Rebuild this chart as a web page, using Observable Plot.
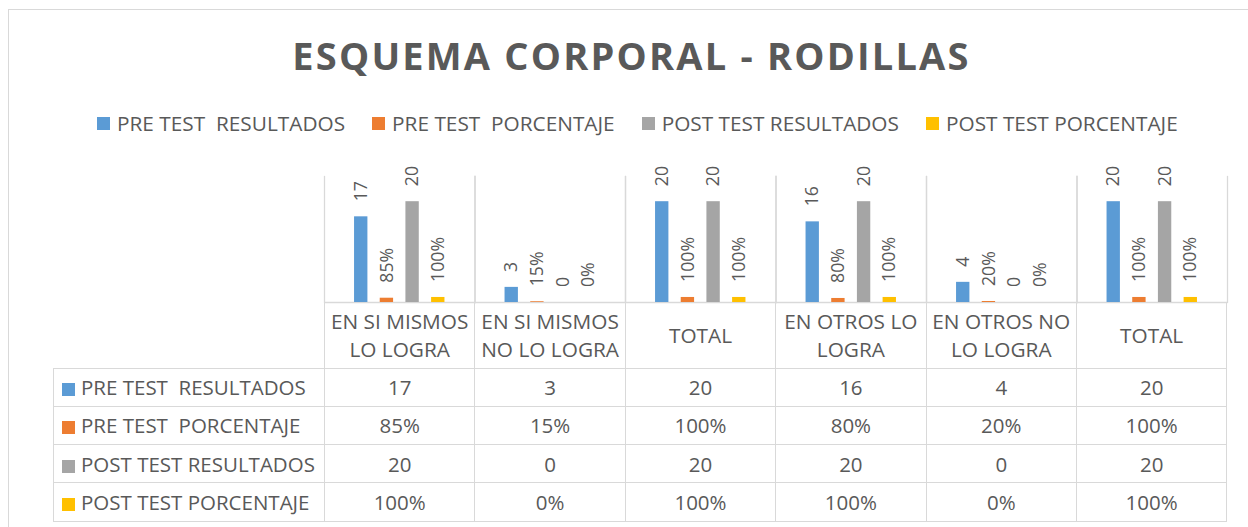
<!DOCTYPE html>
<html>
<head>
<meta charset="utf-8">
<script src="https://cdn.jsdelivr.net/npm/d3@7"></script>
<script src="https://cdn.jsdelivr.net/npm/@observablehq/plot@0.6"></script>
<style>
  html, body { margin: 0; padding: 0; background: #fff; }
  body { width: 1248px; height: 527px; overflow: hidden; position: relative; font-family: "Open Sans", sans-serif; color: #595959; }
  #border { position: absolute; left: 8px; top: 9px; width: 1300px; height: 600px; border: 1px solid #d9d9d9; }
  #title { position: absolute; left: 0; top: 36px; width: 1263px; text-align: center; font-size: 38px; line-height: 38px; font-weight: 700; letter-spacing: 2.2px; color: #595959; white-space: nowrap; }
  #legend { position: absolute; left: 97px; top: 113px; height: 21px; display: flex; align-items: center; font-size: 20.8px; line-height: 20.8px; white-space: pre; }
  #legend .item { display: flex; align-items: center; margin-right: 27px; }
  #legend .sw { width: 13px; height: 13px; margin-right: 7px; }
  .sw { display: inline-block; flex: none; }
  #chart { position: absolute; left: 0; top: 150px; }
  #chart svg { overflow: visible; }
  #tbl { position: absolute; left: 53px; top: 302px; border-collapse: collapse; table-layout: fixed; font-size: 20.5px; color: #595959; }
  #tbl td { border: 1px solid #d9d9d9; padding: 0 2px; text-align: center; vertical-align: middle; box-sizing: border-box; }
  #tbl tr.head td { height: 66px; line-height: 28px; border-top: none; font-size: 20.8px; }
  #tbl tr.head td.blank { border-left: none; }
  #tbl tr.body td { height: 38.3px; line-height: 24px; }
  #tbl td.lab { text-align: left; padding-left: 8px; white-space: pre; }
  #tbl td.lab .sw { width: 13px; height: 13px; margin-right: 6px; vertical-align: -1px; }
</style>
</head>
<body>
<div id="border"></div>
<div id="title">ESQUEMA CORPORAL - RODILLAS</div>
<div id="legend"></div>
<div id="chart"></div>
<table id="tbl"></table>
<script>
// ---- data ----
const categories = ["EN SI MISMOS LO LOGRA", "EN SI MISMOS NO LO LOGRA", "TOTAL", "EN OTROS LO LOGRA", "EN OTROS NO LO LOGRA", "TOTAL"];
const series = ["PRE TEST  RESULTADOS", "PRE TEST  PORCENTAJE", "POST TEST RESULTADOS", "POST TEST PORCENTAJE"];
const preTestResultados = [17, 3, 20, 16, 4, 20];
const preTestPorcentaje = [0.85, 0.15, 1, 0.80, 0.20, 1];
const postTestResultados = [20, 0, 20, 20, 0, 20];
const postTestPorcentaje = [1, 0, 1, 1, 0, 1];
const seriesColors = ["#5B9BD5", "#ED7D31", "#A5A5A5", "#FFC000"];

const seriesValues = [preTestResultados, preTestPorcentaje, postTestResultados, postTestPorcentaje];
const isPercent = [false, true, false, true];
const fmtInt = d3.format("d");
const fmtPct = d3.format(".0%");

const rows = [];
categories.forEach((c, i) => {
  series.forEach((s, j) => {
    const v = seriesValues[j][i];
    rows.push({cat: i, series: s, value: v, label: isPercent[j] ? fmtPct(v) : fmtInt(v)});
  });
});

// ---- legend ----
const legend = document.getElementById("legend");
series.forEach((s, j) => {
  const it = document.createElement("div");
  it.className = "item";
  const sw = document.createElement("span");
  sw.className = "sw";
  sw.style.background = seriesColors[j];
  it.appendChild(sw);
  it.appendChild(document.createTextNode(s));
  legend.appendChild(it);
});

// ---- chart ----
const chart = Plot.plot({
  width: 1248,
  height: 153,
  marginLeft: 324,
  marginRight: 21,
  marginTop: 26,
  marginBottom: 1,
  facet: {data: rows, x: "cat"},
  fx: {domain: d3.range(categories.length), padding: 0, axis: null, round: false},
  x: {domain: series, paddingInner: 0.48, paddingOuter: 1.17, axis: null, round: false},
  y: {domain: [0, 25], axis: null},
  color: {domain: series, range: seriesColors},
  style: {fontFamily: "Open Sans", background: "transparent", overflow: "visible"},
  marks: [
    Plot.frame({anchor: "left", stroke: "#d9d9d9", strokeWidth: 1.3}),
    Plot.frame({anchor: "right", stroke: "#d9d9d9", strokeWidth: 1.3}),
    Plot.ruleY([0], {stroke: "#d9d9d9", strokeWidth: 1.3}),
    Plot.barY(rows, {x: "series", y: "value", fill: "series"}),
    Plot.text(rows, {x: "series", y: "value", text: "label", rotate: -90, textAnchor: "start", dy: -15.5, fill: "#595959", fontSize: 17.7})
  ]
});
document.getElementById("chart").appendChild(chart);

// ---- data table ----
const tbl = document.getElementById("tbl");
const colgroup = document.createElement("colgroup");
const c0 = document.createElement("col"); c0.style.width = "271px"; colgroup.appendChild(c0);
categories.forEach(() => { const c = document.createElement("col"); c.style.width = "150.4px"; colgroup.appendChild(c); });
tbl.appendChild(colgroup);

const head = document.createElement("tr");
head.className = "head";
const blank = document.createElement("td"); blank.className = "blank"; head.appendChild(blank);
categories.forEach(c => { const td = document.createElement("td"); td.textContent = c; head.appendChild(td); });
tbl.appendChild(head);

series.forEach((s, j) => {
  const tr = document.createElement("tr");
  tr.className = "body";
  const lab = document.createElement("td");
  lab.className = "lab";
  const sw = document.createElement("span");
  sw.className = "sw";
  sw.style.background = seriesColors[j];
  lab.appendChild(sw);
  lab.appendChild(document.createTextNode(s));
  tr.appendChild(lab);
  categories.forEach((c, i) => {
    const v = seriesValues[j][i];
    const td = document.createElement("td");
    td.textContent = isPercent[j] ? fmtPct(v) : fmtInt(v);
    tr.appendChild(td);
  });
  tbl.appendChild(tr);
});
</script>
</body>
</html>
